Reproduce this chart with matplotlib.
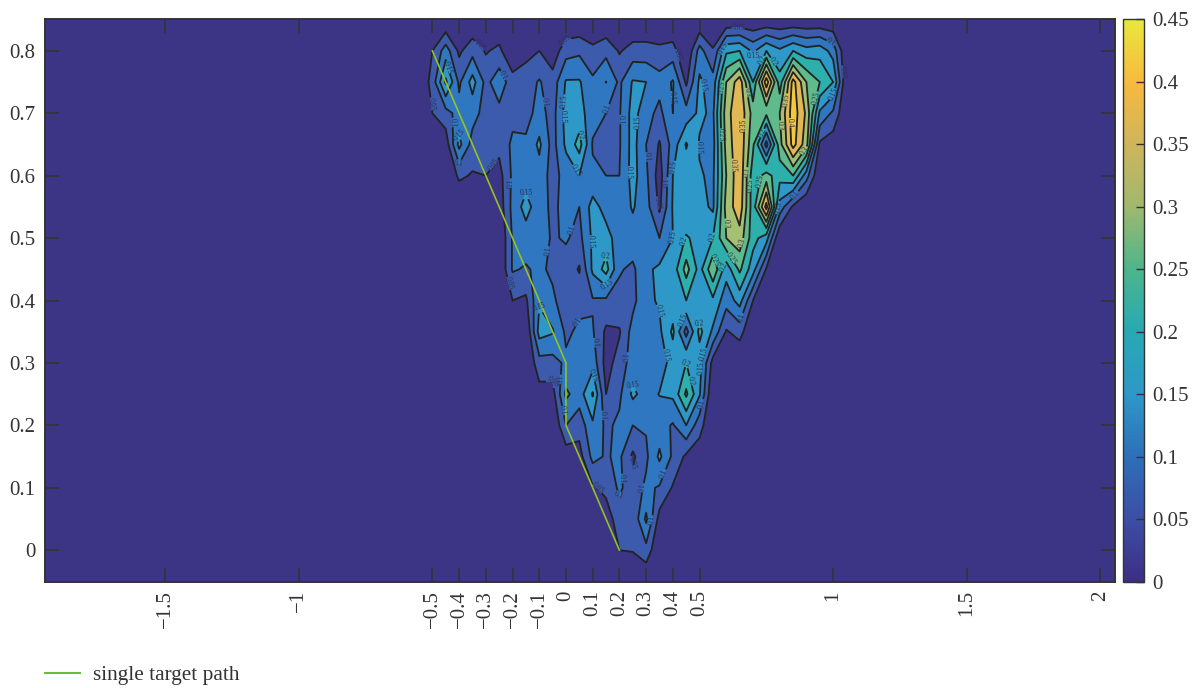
import numpy as np
import matplotlib
matplotlib.use("Agg")
import matplotlib.pyplot as plt
from matplotlib.colors import LinearSegmentedColormap, Normalize
from matplotlib.cm import ScalarMappable
from matplotlib.lines import Line2D

plt.rcParams['font.family'] = ['Liberation Serif', 'DejaVu Serif']

x_grid = [-0.55 + 0.05 * i for i in range(33)]
y_grid = [0.85, 0.8, 0.75, 0.7, 0.65, 0.6, 0.55, 0.5, 0.45, 0.4, 0.35, 0.3, 0.25, 0.2, 0.15, 0.1, 0.05, 0.0, -0.05]
levels = [0, 0.05, 0.1, 0.15, 0.2, 0.25, 0.3, 0.35, 0.4, 0.45]
band_colors = ['#3c3484', '#3d5bac', '#2f77c0', '#2e98c8', '#2db0ac', '#5fbb8b', '#a5bf73', '#e1b854', '#f4c83e']
bar_colors = ['#3c2f84', '#3c4ea6', '#2d70b9', '#2e98c8', '#27a9b3', '#4cb58c', '#9fb96e', '#cfb55c', '#f8b93f', '#e9e83c']

# columns from x=-0.55 to x=1.05; each lists y=0.8 ... y=0
z_columns = [
 [0]*17,
 [.05,.07,.05,0,0,0,0,0,0,0,0,0,0,0,0,0,0],
 [.125,.21,.08,.02,0,0,0,0,0,0,0,0,0,0,0,0,0],
 [.04,.09,.12,.165,.06,0,0,0,0,0,0,0,0,0,0,0,0],
 [.083,.17,.12,.08,.045,0,0,0,0,0,0,0,0,0,0,0,0],
 [.045,.085,.08,.07,.05,0,0,0,0,0,0,0,0,0,0,0,0],
 [.0625,.13,.085,.065,.03,.02,0,0,0,0,0,0,0,0,0,0,0],
 [0,.073,.085,.11,.11,.115,.105,.105,.05,0,0,0,0,0,0,0,0],
 [.035,.075,.08,.11,.125,.17,.125,.095,.04,0,0,0,0,0,0,0,0],
 [.05,.105,.12,.16,.13,.12,.12,.11,.145,.17,.08,.03,0,0,0,0,0],
 [.02,.07,.08,.08,.08,.09,.095,.09,.11,.155,.08,.03,0,0,0,0,0],
 [.08,.155,.17,.16,.12,.115,.105,.08,.07,.09,.11,.16,.1,.02,0,0,0],
 [.09,.155,.17,.22,.15,.1,.085,.045,.085,.11,.125,.125,.07,.03,0,0,0],
 [.0625,.11,.12,.095,.11,.17,.16,.16,.095,.105,.13,.205,.14,.115,.045,0,0],
 [.085,.151,.1,.08,.1,.13,.17,.22,.09,.04,.03,.05,.09,.095,.06,.03,0],
 [.045,.09,.095,.095,.1,.12,.125,.105,.085,.045,.07,.09,.11,.11,.11,.07,.05],
 [.07,.155,.17,.17,.17,.155,.13,.09,.085,.12,.125,.16,.1,.04,.07,.06,.053],
 [.07,.15,.12,.1,.11,.12,.13,.14,.14,.13,.12,.13,.105,.09,.11,.16,.083],
 [.0625,.12,.085,.045,.025,.04,.1,.16,.155,.14,.125,.152,.12,.16,.095,.03,0],
 [.07,.155,.15,.12,.15,.155,.15,.17,.17,.21,.17,.16,.095,.09,.045,0,0],
 [0,.04,.12,.205,.17,.16,.205,.27,.2,.08,.2,.26,.15,.04,.02,0,0],
 [.12,.16,.16,.145,.155,.17,.185,.18,.16,.215,.17,.155,.07,.02,0,0,0],
 [.055,.12,.14,.13,.14,.14,.2,.29,.19,.14,.03,0,0,0,0,0,0],
 [.19,.3,.33,.32,.3,.32,.3,.17,.12,.045,0,0,0,0,0,0,0],
 [.2,.38,.39,.39,.39,.38,.33,.26,.17,.07,0,0,0,0,0,0,0],
 [.14,.2,.28,.26,.22,.22,.22,.17,.05,0,0,0,0,0,0,0,0],
 [.2,.43,.26,.08,.27,.42,.17,.045,0,0,0,0,0,0,0,0,0],
 [.16,.22,.3,.28,.22,.13,0,0,0,0,0,0,0,0,0,0,0],
 [.2,.42,.43,.42,.25,.04,0,0,0,0,0,0,0,0,0,0,0],
 [.17,.3,.34,.32,.12,0,0,0,0,0,0,0,0,0,0,0,0],
 [.18,.25,.14,.04,0,0,0,0,0,0,0,0,0,0,0,0,0],
 [.13,.2,.09,.02,0,0,0,0,0,0,0,0,0,0,0,0,0],
 [0]*17,
]

path_x = [-0.5, 0, 0, 0.2]
path_y = [0.8, 0.3, 0.2, 0]
x_ticks = [-1.5, -1, -0.5, -0.4, -0.3, -0.2, -0.1, 0, 0.1, 0.2, 0.3, 0.4, 0.5, 1, 1.5, 2]
x_labels = ['−1.5', '−1', '−0.5', '−0.4', '−0.3', '−0.2', '−0.1', '0', '0.1', '0.2', '0.3', '0.4', '0.5', '1', '1.5', '2']
y_ticks = [0, 0.1, 0.2, 0.3, 0.4, 0.5, 0.6, 0.7, 0.8]
y_labels = ['0', '0.1', '0.2', '0.3', '0.4', '0.5', '0.6', '0.7', '0.8']
cbar_ticks = [0, 0.05, 0.1, 0.15, 0.2, 0.25, 0.3, 0.35, 0.4, 0.45]
cbar_labels = ['0', '0.05', '0.1', '0.15', '0.2', '0.25', '0.3', '0.35', '0.4', '0.45']

# where contour labels sit (the nearest contour supplies the text)
label_x = [-.32,-.5,-.44,-.4,-.405,-.285,-.247,-.445,-.08,-.22,-.153,-.075,-.02,.01,.055,.045,.153,.217,.27,.228,
           .303,.004,.105,.146,.004,.34,.427,.397,.527,.576,.498,.397,.378,.408,.434,.539,.558,.6,.62,.614,
           .648,.633,.666,.677,.584,.584,.644,.696,.73,.77,.831,.808,.846,.932,.89,.73,.677,.733,.689,.80,
           .868,.988,1.037,1.0,-.11,-.21,.027,.12,.214,.157,.4,.438,.49,.494,.386,.457,.505,.662,.25,.109,
           .008,-.05,-.007,.14,.453,.505,.24,.217,.285,.195,.12,.326,.352]
label_y = [.81,.715,.685,.665,.617,.622,.758,.773,.718,.588,.588,.48,.72,.695,.665,.61,.708,.69,.685,.605,
           .63,.516,.494,.476,.815,.556,.794,.725,.745,.665,.645,.614,.59,.502,.497,.502,.465,.452,.468,.524,
           .494,.617,.681,.733,.742,.805,.837,.786,.786,.781,.721,.681,.685,.725,.641,.669,.606,.59,.585,.548,
           .566,.81,.766,.73,.39,.428,.369,.333,.31,.425,.388,.369,.372,.317,.313,.3,.292,.372,.273,.281,
           .273,.27,.224,.216,.27,.235,.14,.115,.1,.088,.1,.048,.125]

W, H = 1202, 688
fig = plt.figure(figsize=(W / 100, H / 100), dpi=100)
ax = fig.add_axes([45 / W, 1 - 582 / H, 1070 / W, 563 / H])
cax = fig.add_axes([1123 / W, 1 - 582 / H, 21 / W, 563 / H])
dark = '#333333'
FS = 15

# grid values with zero rows at the top and bottom
Z = np.zeros((len(y_grid), len(x_grid)))
Z[1:18, :] = np.array(z_columns, dtype=float).T
X, Y = np.meshgrid(x_grid, y_grid)
ax.set_facecolor(band_colors[0])
ax.contourf(X, Y, Z, levels=levels, colors=band_colors)
cs = ax.contour(X, Y, Z, levels=levels[1:], colors='#222222', linewidths=1.3)

ax.set_xlim(-1.95, 2.055)
ax.set_ylim(-0.051, 0.851)
ax.set_xticks(x_ticks)
ax.set_xticklabels(x_labels, rotation=90)
ax.set_yticks(y_ticks)
ax.set_yticklabels(y_labels)
ax.tick_params(axis='both', direction='in', length=10, width=1.2, color=dark,
               labelsize=FS, labelcolor=dark, pad=6, top=True, right=True)
ax.tick_params(axis='y', pad=7)
for s in ax.spines.values():
    s.set_linewidth(1.4)
    s.set_color(dark)

ax.clabel(cs, levels=levels[1:], fontsize=5.5, inline=True, inline_spacing=0,
          fmt='%g', colors='#2c3148', manual=list(zip(label_x, label_y)))
ax.plot(path_x, path_y, color='#93c223', lw=1.2)

cmap = LinearSegmentedColormap.from_list('bar', list(zip([t / 0.45 for t in cbar_ticks], bar_colors)))
cb = fig.colorbar(ScalarMappable(Normalize(0, 0.45), cmap), cax=cax)
cb.set_ticks(cbar_ticks)
cb.set_ticklabels(cbar_labels)
cb.ax.tick_params(direction='in', length=6, width=1, color=dark, labelsize=FS, labelcolor=dark, pad=6)
cb.outline.set_linewidth(1.0)
cb.outline.set_edgecolor(dark)

handle = Line2D([], [], color='#6cbb3c', lw=1.5)
fig.legend([handle], ['single target path'], loc='center left', bbox_to_anchor=(45 / W, 1 - 675 / H),
           frameon=False, fontsize=15.3, labelcolor=dark, handlelength=1.65, handletextpad=0.6,
           borderpad=0, borderaxespad=0)

fig.savefig('out.png', dpi=100)
